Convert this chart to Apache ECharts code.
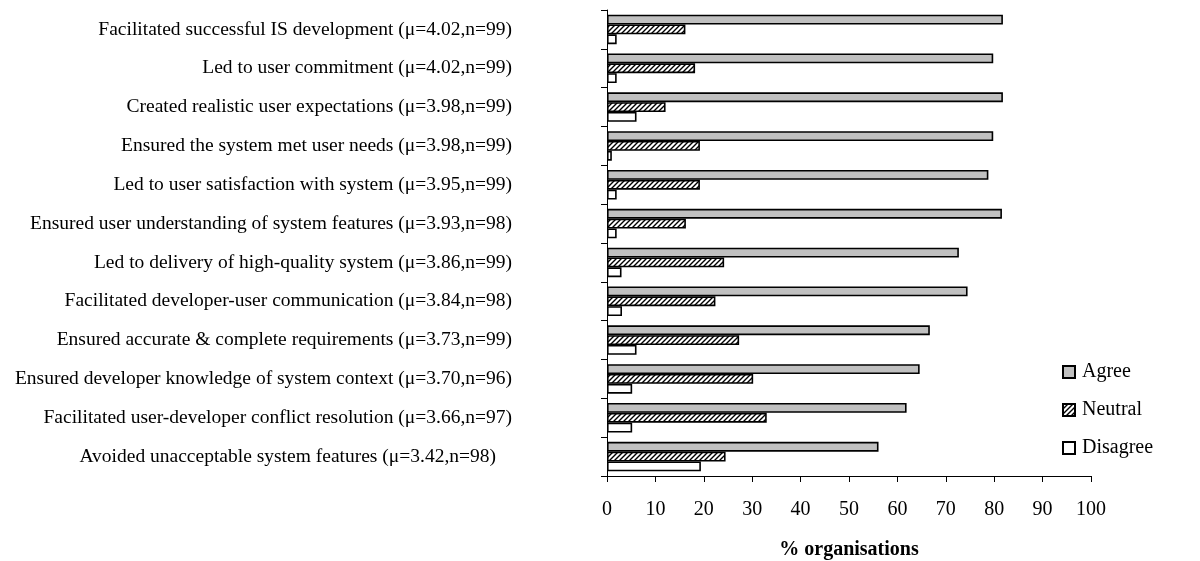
<!DOCTYPE html>
<html>
<head>
<meta charset="utf-8">
<script src="https://cdn.jsdelivr.net/npm/echarts@6/dist/echarts.min.js"></script>
<style>html,body{margin:0;padding:0;background:#fff}#c{width:1200px;height:561px}</style>
</head>
<body>
<div id="c"></div>
<script>
var categories = [
  "Facilitated successful IS development (\u03bc=4.02,n=99)",
  "Led to user commitment (\u03bc=4.02,n=99)",
  "Created realistic user expectations (\u03bc=3.98,n=99)",
  "Ensured the system met user needs (\u03bc=3.98,n=99)",
  "Led to user satisfaction with system (\u03bc=3.95,n=99)",
  "Ensured user understanding of system features (\u03bc=3.93,n=98)",
  "Led to delivery of high-quality system (\u03bc=3.86,n=99)",
  "Facilitated developer-user communication (\u03bc=3.84,n=98)",
  "Ensured accurate & complete requirements (\u03bc=3.73,n=99)",
  "Ensured developer knowledge of system context (\u03bc=3.70,n=96)",
  "Facilitated user-developer conflict resolution (\u03bc=3.66,n=97)",
  "Avoided unacceptable system features (\u03bc=3.42,n=98)"
];
var agree    = [81.8, 79.8, 81.8, 79.8, 78.8, 81.6, 72.7, 74.5, 66.7, 64.6, 61.9, 56.1];
var neutral  = [16.2, 18.2, 12.1, 19.2, 19.2, 16.3, 24.2, 22.4, 27.3, 30.2, 33.0, 24.5];
var disagree = [2.0, 2.0, 6.1, 1.0, 2.0, 2.0, 3.0, 3.1, 6.1, 5.2, 5.2, 19.4];
var xTicks = [0, 10, 20, 30, 40, 50, 60, 70, 80, 90, 100];

var FONT = "Liberation Serif";

// hatch pattern
var pc = document.createElement('canvas');
pc.width = 5; pc.height = 5;
var g = pc.getContext('2d');
g.fillStyle = '#fff'; g.fillRect(0, 0, 5, 5);
g.strokeStyle = '#000'; g.lineWidth = 1.4;
g.beginPath();
g.moveTo(-1, 6); g.lineTo(6, -1);
g.moveTo(-1, 1); g.lineTo(1, -1);
g.moveTo(4, 6); g.lineTo(6, 4);
g.stroke();
var hatch = { image: pc, repeat: 'repeat' };

var catData = categories.map(function (c, i) {
  if (i === categories.length - 1) {
    return { value: c, textStyle: { padding: [6, 16, 0, 0] } };
  }
  return c;
});

var chart = echarts.init(document.getElementById('c'));
chart.setOption({
  animation: false,
  backgroundColor: '#fff',
  textStyle: { fontFamily: FONT },
  grid: { left: 607, right: 109, top: 10, bottom: 85, containLabel: false, outerBoundsMode: 'none' },
  legend: {
    orient: 'vertical',
    left: 1057,
    top: 357,
    itemWidth: 12,
    itemHeight: 12,
    itemGap: 18,
    icon: 'rect',
    textStyle: { fontFamily: FONT, fontSize: 20, color: '#000', padding: [0, 0, 0, 2] },
    data: ['Agree', 'Neutral', 'Disagree']
  },
  xAxis: {
    type: 'value',
    min: 0, max: 100, interval: 10,
    name: '% organisations',
    nameLocation: 'middle',
    nameGap: 64,
    nameTextStyle: { fontFamily: FONT, fontSize: 20, fontWeight: 'bold', color: '#000' },
    axisLine: { show: true, lineStyle: { color: '#000', width: 1 } },
    axisTick: { show: true, length: 6, lineStyle: { color: '#000' } },
    splitLine: { show: false },
    axisLabel: {
      fontFamily: FONT, fontSize: 20, color: '#000', margin: 24,
      formatter: function (v) { return xTicks.indexOf(v) >= 0 ? String(v) : ''; }
    }
  },
  yAxis: {
    type: 'category',
    inverse: true,
    data: catData,
    axisLine: { show: true, lineStyle: { color: '#000', width: 1 } },
    axisTick: { show: true, length: 6, lineStyle: { color: '#000' } },
    axisLabel: { fontFamily: FONT, fontSize: 19.5, color: '#000', margin: 95 }
  },
  series: [
    {
      name: 'Agree', type: 'bar', data: agree,
      barGap: '0%', barCategoryGap: '24%',
      itemStyle: { color: '#c0c0c0', borderColor: '#000', borderWidth: 1.6 }
    },
    {
      name: 'Neutral', type: 'bar', data: neutral,
      barGap: '0%', barCategoryGap: '24%',
      itemStyle: { color: hatch, borderColor: '#000', borderWidth: 1.6 }
    },
    {
      name: 'Disagree', type: 'bar', data: disagree,
      barGap: '0%', barCategoryGap: '24%',
      itemStyle: { color: '#fff', borderColor: '#000', borderWidth: 1.6 }
    }
  ]
});
</script>
</body>
</html>
